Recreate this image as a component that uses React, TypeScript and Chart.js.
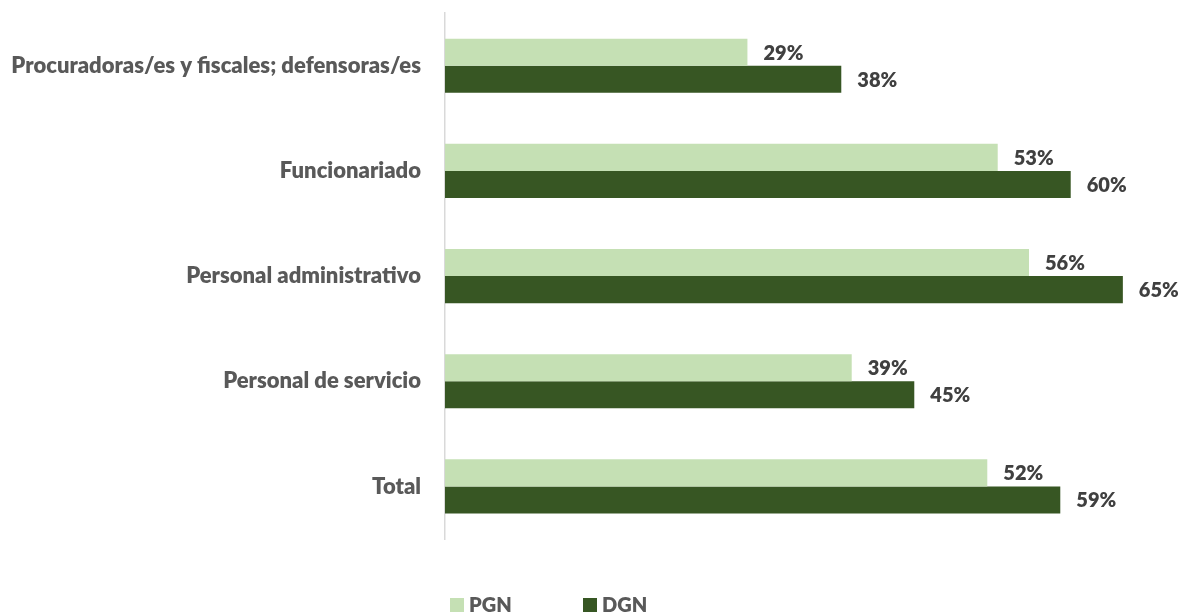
import React, { useEffect, useRef } from "react";
import { Chart, registerables } from "chart.js";

Chart.register(...registerables);

const categories = [
  "Procuradoras/es y fiscales; defensoras/es",
  "Funcionariado",
  "Personal administrativo",
  "Personal de servicio",
  "Total",
];
const seriesNames = ["PGN", "DGN"];
const pgnValues = [29, 53, 56, 39, 52];
const dgnValues = [38, 60, 65, 45, 59];
const seriesColors = ["#c5e0b4", "#375623"];

const FONT = "Lato, 'Noto Sans', sans-serif";
const WEIGHT = 800;

const dataLabelPlugin = {
  id: "dataLabels",
  afterDatasetsDraw(chart: any) {
    const ctx = chart.ctx;
    ctx.save();
    ctx.font = `${WEIGHT} 20px ${FONT}`;
    ctx.fillStyle = "#404040";
    ctx.textAlign = "left";
    ctx.textBaseline = "middle";
    chart.data.datasets.forEach((ds: any, di: number) => {
      const meta = chart.getDatasetMeta(di);
      meta.data.forEach((bar: any, i: number) => {
        ctx.fillText(`${ds.data[i]}%`, bar.x + 16, bar.y + 1);
      });
    });
    ctx.restore();
  },
};

const legendPlugin = {
  id: "customLegend",
  afterDraw(chart: any) {
    const ctx = chart.ctx;
    const startX = 450;
    const step = 133;
    const boxTop = 598;
    ctx.save();
    ctx.font = `${WEIGHT} 20px ${FONT}`;
    ctx.textAlign = "left";
    ctx.textBaseline = "alphabetic";
    chart.data.datasets.forEach((ds: any, i: number) => {
      const x = startX + i * step;
      ctx.fillStyle = ds.backgroundColor;
      ctx.fillRect(x, boxTop, 14, 14);
      ctx.fillStyle = "#595959";
      ctx.fillText(ds.label, x + 19, 612);
    });
    ctx.restore();
  },
};

export default function App() {
  const canvasRef = useRef<HTMLCanvasElement>(null);

  useEffect(() => {
    document.body.style.margin = "0";
    const canvas = canvasRef.current!;
    const chart = new Chart(canvas, {
      type: "bar",
      data: {
        labels: categories,
        datasets: [
          {
            label: seriesNames[0],
            data: pgnValues,
            backgroundColor: seriesColors[0],
            categoryPercentage: 0.515,
            barPercentage: 1,
          },
          {
            label: seriesNames[1],
            data: dgnValues,
            backgroundColor: seriesColors[1],
            categoryPercentage: 0.515,
            barPercentage: 1,
          },
        ],
      },
      options: {
        indexAxis: "y",
        responsive: false,
        animation: false,
        layout: { padding: { top: 12, right: 13, bottom: 73, left: 0 } },
        plugins: {
          legend: { display: false },
          tooltip: { enabled: false },
        },
        scales: {
          x: { display: false, min: 0, max: 70 },
          y: {
            grid: { display: false, drawTicks: true, tickLength: 24 },
            border: { display: true, color: "#d9d9d9", width: 1.5 },
            ticks: {
              color: "#595959",
              font: { family: FONT, size: 22, weight: WEIGHT },
              padding: 0,
            },
            afterFit: (scale: any) => {
              scale.width = 445;
            },
          },
        },
      },
      plugins: [dataLabelPlugin, legendPlugin],
    } as any);
    return () => chart.destroy();
  }, []);

  return (
    <div
      style={{
        position: "fixed",
        left: 0,
        top: 0,
        width: 1188,
        height: 612,
        overflow: "hidden",
        background: "#ffffff",
      }}
    >
      <canvas ref={canvasRef} width={1188} height={612} style={{ display: "block" }} />
    </div>
  );
}
